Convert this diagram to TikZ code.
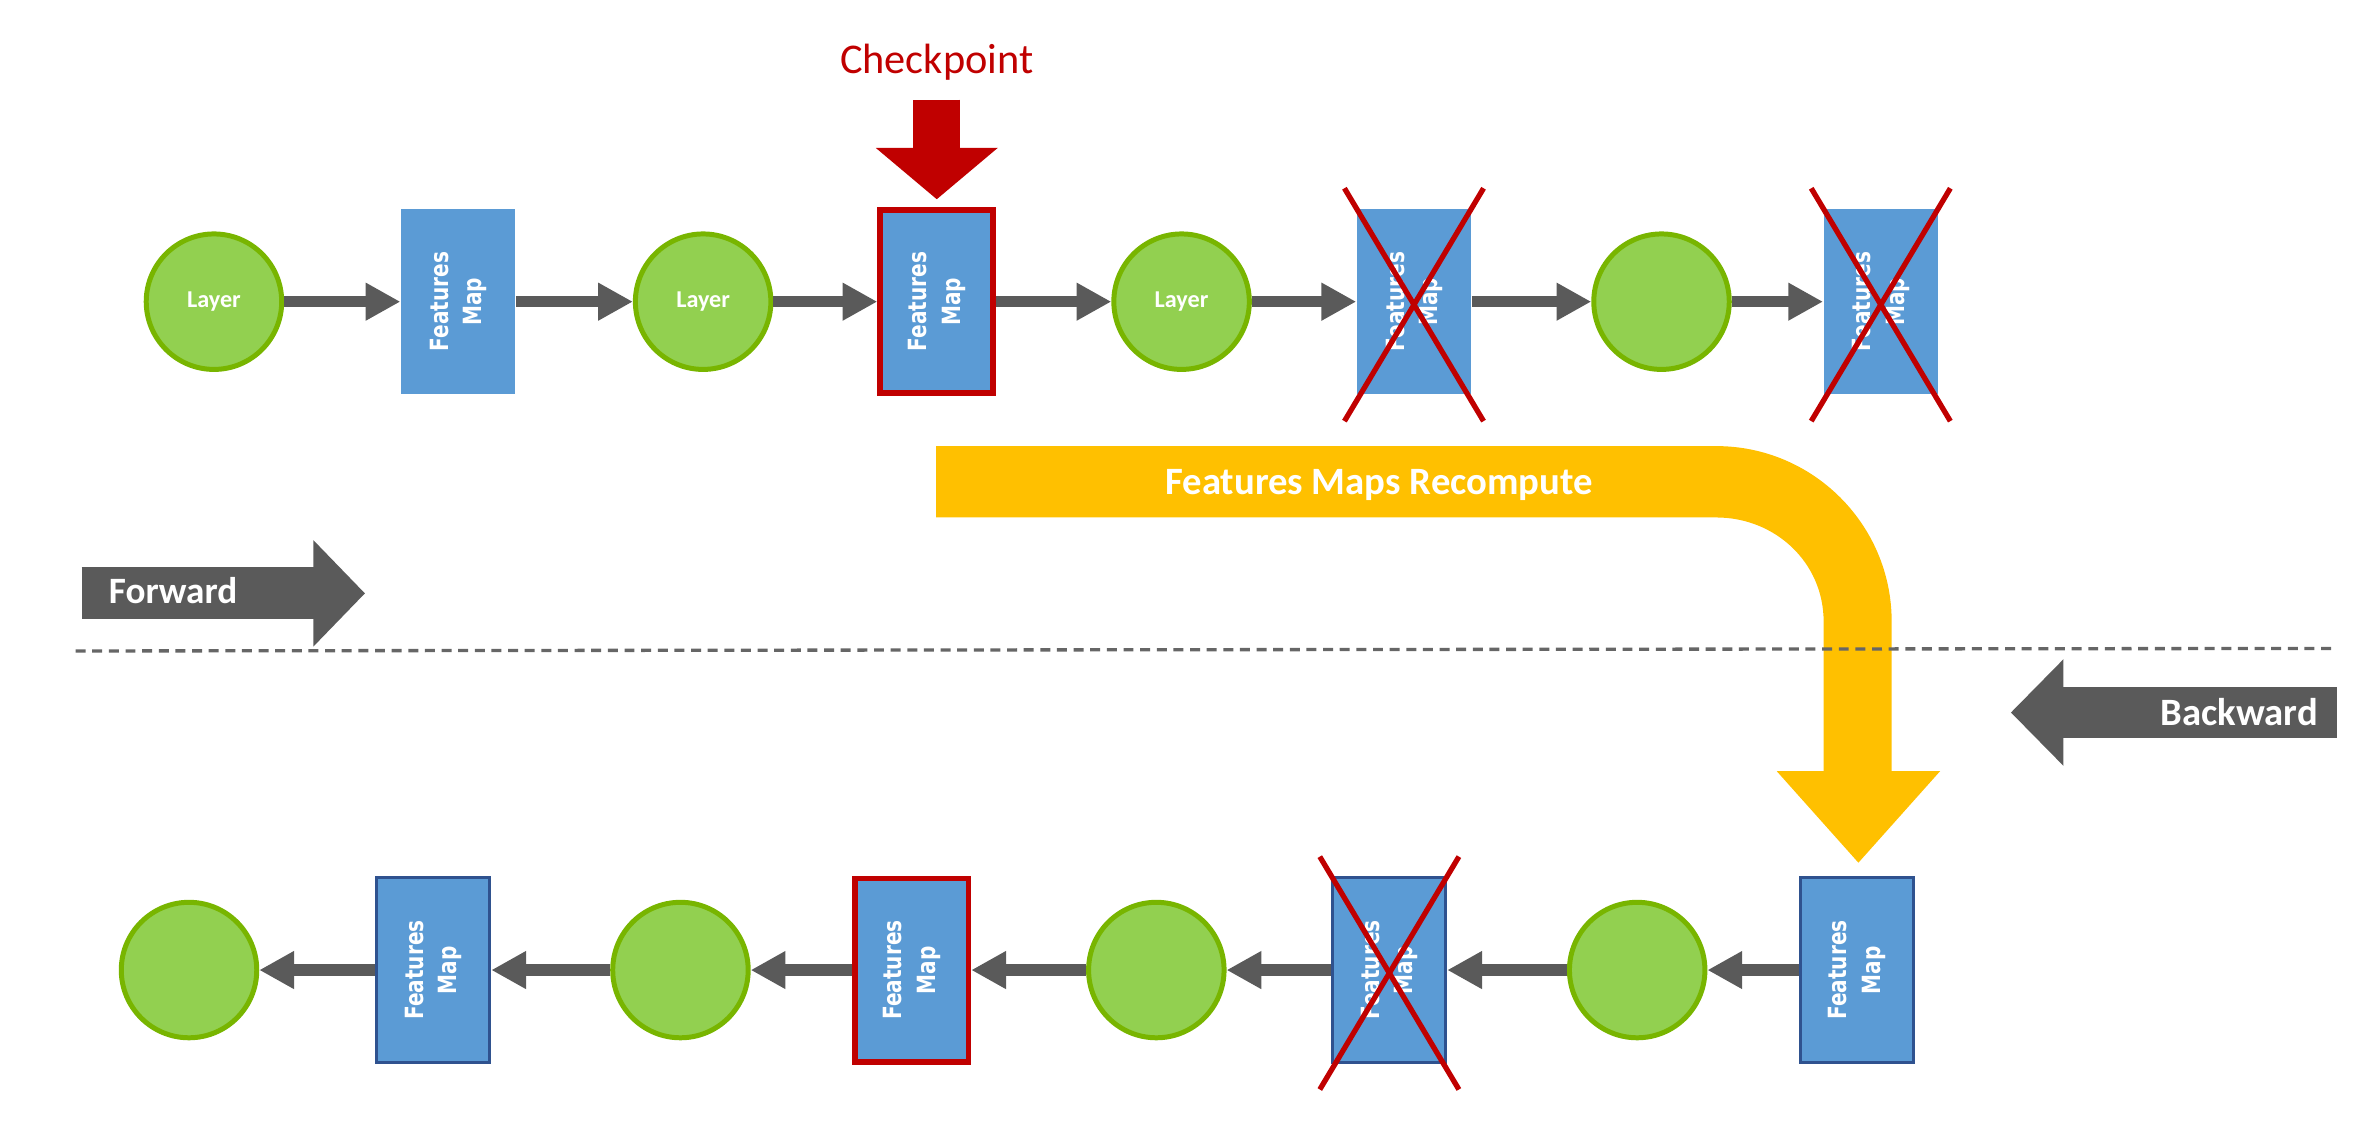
\documentclass[tikz,border=0pt]{standalone}
\usepackage{fontspec}
\usepackage{graphicx}
\setmainfont{Carlito}
\newfontfamily\mapfont[FakeStretch=0.8]{DejaVu Sans Bold}
\usetikzlibrary{arrows.meta}

\definecolor{layerfill}{HTML}{92D050}
\definecolor{layerline}{HTML}{78B500}
\definecolor{mapblue}{HTML}{5B9BD5}
\definecolor{mapline}{HTML}{2F528F}
\definecolor{ckred}{HTML}{C00000}
\definecolor{flowgray}{HTML}{5A5A5A}
\definecolor{dashgray}{HTML}{666666}
\definecolor{recyellow}{HTML}{FFC000}

\newcommand{\fmlabel}{\rotatebox{90}{\begin{tabular}{@{}c@{}}Features\\Map\end{tabular}}}

\begin{document}
\begin{tikzpicture}[x=0.5pt, y=-0.5pt,
    layer/.style={circle, draw=layerline, fill=layerfill, line width=1.65pt, minimum size=44.8pt, inner sep=0pt, text=white, font=\fontsize{8}{9.6}\bfseries\selectfont},
    fmap/.style={rectangle, fill=mapblue, minimum width=37.8pt, minimum height=61pt, inner sep=0pt, text=white, font=\mapfont\fontsize{8.3}{11}\selectfont},
    fmapb/.style={fmap, draw=mapline, line width=1pt, minimum width=37.3pt, minimum height=61pt},
    ckbox/.style={fmap, draw=ckred, line width=1.9pt, minimum width=37.4pt, minimum height=60.6pt},
    flow/.style={draw=flowgray, line width=3.8pt, -{Triangle[width=11.75pt, length=11.5pt]}},
    cross/.style={draw=ckred, line width=1.75pt},
    tag/.style={inner sep=0pt, text=white, font=\fontsize{12.3}{15}\bfseries\selectfont}]
    \useasboundingbox (0,0) rectangle (1568,751.3);

    \node [layer] (L1) at (141.5,199.5) {Layer};
    \node [fmap] (F1) at (303,199.5) {\fmlabel};
    \node [layer] (L2) at (465,199.5) {Layer};
    \node [ckbox] (F2) at (619.5,199.5) {\fmlabel};
    \node [layer] (L3) at (781.4,199.5) {Layer};
    \node [fmap] (F3) at (935.1,199.5) {\fmlabel};
    \node [layer] (L4) at (1098.8,199.5) {};
    \node [fmap] (F4) at (1243.8,199.5) {\fmlabel};

    \node [layer] (B1) at (125,641.5) {};
    \node [fmapb] (G1) at (286.6,641.5) {\fmlabel};
    \node [layer] (B2) at (450,641.5) {};
    \node [ckbox] (G2) at (603,641.5) {\fmlabel};
    \node [layer] (B3) at (764.7,641.5) {};
    \node [fmapb] (G3) at (918.8,641.5) {\fmlabel};
    \node [layer] (B4) at (1082.7,641.5) {};
    \node [fmapb] (G4) at (1227.9,641.5) {\fmlabel};

    \foreach \a/\b in {L1/F1, F1/L2, L2/F2, F2/L3, L3/F3, F3/L4, L4/F4, G4/B4, B4/G3, G3/B3, B3/G2, G2/B2, B2/G1, G1/B1}
        \draw [flow] (\a) -- (\b);

    \foreach \n in {F3, F4, G3} {
        \draw [cross] ([shift={(-46,-75)}]\n.center) -- ([shift={(46,79)}]\n.center);
        \draw [cross] ([shift={(46,-75)}]\n.center) -- ([shift={(-46,79)}]\n.center);
    }

    \node [anchor=base, inner sep=0pt, text=ckred, font=\fontsize{14}{17}\selectfont] (CK) at ([yshift=44.25pt]F2.north) {Checkpoint};
    \draw [draw=ckred, line width=15.4pt, -{Triangle[width=39.4pt, length=17pt]}, shorten <=6.2pt, shorten >=2.6pt] (CK) -- (F2);

    \fill [recyellow] (619,295) -- (1135,295) .. controls (1199,295) and (1251,347) .. (1251,411) -- (1251,510) -- (1283,510) -- (1229,570.5) -- (1175,510) -- (1206,510) -- (1206,411) .. controls (1206,372) and (1174,342.2) .. (1135,342.2) -- (619,342.2) -- cycle;
    \node [tag, anchor=base, font=\fontsize{12.8}{15}\bfseries\selectfont] (RC) at (912,326.7) {Features Maps Recompute};

    \coordinate (D1) at (50,430.5);
    \coordinate (D2) at (1543,428.8);
    \draw [dashgray, line width=1.1pt, dash pattern=on 3.3pt off 2.2pt] (D1) -- (D2);

    \coordinate (FW1) at (54,392.4);
    \coordinate (FW2) at (241.4,392.4);
    \draw [draw=flowgray, line width=17.2pt, -{Triangle[width=34.2pt, length=17.1pt]}] (FW1) -- (FW2);
    \node [tag, anchor=base west] (FW) at (71.6,399) {Forward};

    \coordinate (BW1) at (1545.4,471.2);
    \coordinate (BW2) at (1329.8,471.2);
    \draw [draw=flowgray, line width=17.1pt, -{Triangle[width=34.2pt, length=17.4pt]}] (BW1) -- (BW2);
    \node [tag, anchor=base east, font=\fontsize{12.8}{15}\bfseries\selectfont] (BW) at (1533.2,479.5) {Backward};
  \end{tikzpicture}
\end{document}
